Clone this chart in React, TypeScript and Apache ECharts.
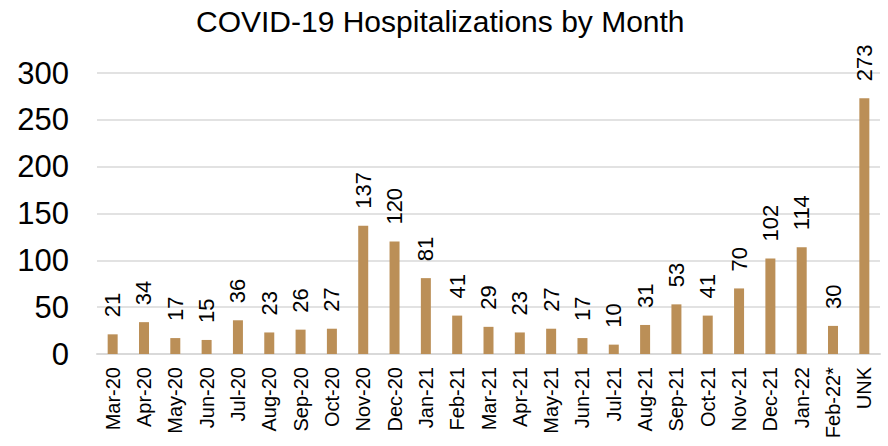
import React, { useEffect, useRef } from "react";
import * as echarts from "echarts";

const categories = [
  "Mar-20", "Apr-20", "May-20", "Jun-20", "Jul-20", "Aug-20", "Sep-20", "Oct-20",
  "Nov-20", "Dec-20", "Jan-21", "Feb-21", "Mar-21", "Apr-21", "May-21", "Jun-21",
  "Jul-21", "Aug-21", "Sep-21", "Oct-21", "Nov-21", "Dec-21", "Jan-22", "Feb-22*", "UNK",
];
const hospitalizations = [
  21, 34, 17, 15, 36, 23, 26, 27, 137, 120, 81, 41, 29, 23, 27, 17, 10, 31, 53, 41, 70, 102, 114, 30, 273,
];
const titleText = "COVID-19 Hospitalizations by Month";

const FONT = "'Liberation Sans', Arial, sans-serif";

export default function App() {
  const ref = useRef<HTMLDivElement>(null);
  useEffect(() => {
    if (!ref.current) return;
    const chart = echarts.init(ref.current, undefined, { renderer: "svg" });
    chart.setOption({
      animation: false,
      title: {
        text: titleText,
        left: 191,
        top: 1,
        textStyle: { fontFamily: FONT, fontSize: 30, fontWeight: "normal", color: "#000" },
      },
      grid: { left: 97, right: 8, top: 73, bottom: 92 },
      xAxis: {
        type: "category",
        data: categories,
        axisLine: { lineStyle: { color: "#d9d9d9", width: 2 } },
        axisTick: { show: false },
        axisLabel: {
          rotate: 90,
          interval: 0,
          margin: 13,
          fontFamily: FONT,
          fontSize: 20,
          color: "#000",
        },
      },
      yAxis: {
        type: "value",
        min: 0,
        max: 300,
        interval: 50,
        axisLine: { show: false },
        axisTick: { show: false },
        splitLine: { lineStyle: { color: "#d9d9d9", width: 1.5 } },
        axisLabel: { margin: 28, fontFamily: FONT, fontSize: 31, color: "#000" },
      },
      series: [
        {
          type: "bar",
          data: hospitalizations,
          barWidth: 10,
          itemStyle: { color: "#BB8F57" },
          label: {
            show: true,
            position: "top",
            rotate: 90,
            align: "left",
            verticalAlign: "middle",
            distance: 17,
            fontFamily: FONT,
            fontSize: 22,
            color: "#000",
          },
        },
      ],
    });
    return () => chart.dispose();
  }, []);
  return (
    <div
      ref={ref}
      style={{ position: "fixed", left: 0, top: 0, width: 888, height: 446, background: "#fff" }}
    />
  );
}
